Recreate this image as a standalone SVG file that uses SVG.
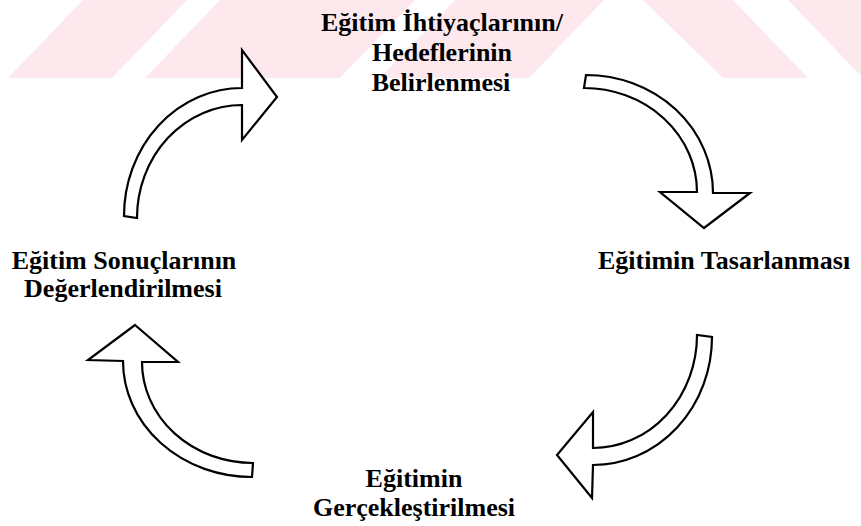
<svg xmlns="http://www.w3.org/2000/svg" width="861" height="526" viewBox="0 0 861 526">
<style>
.wm{fill:#fde9ed;stroke:none}
.arrow{fill:#ffffff;stroke:#000000;stroke-width:2.2;stroke-linejoin:miter}
.lbl{font-family:"Liberation Serif","Times New Roman",serif;font-weight:bold;font-size:26px;fill:#000000}
</style>
<g id="watermark">
<polygon class="wm" points="8,78 112,78 187,0 83,0"/>
<polygon class="wm" points="145,78 340,78 415,0 220,0"/>
<polygon class="wm" points="380,78 529,78 604,0 455,0"/>
<polygon class="wm" points="723,78 808,78 733,0 643,0"/>
<polygon class="wm" points="863,78 861,78 861,76 788,0 861,0"/>
</g>
<g id="connectors">
<path id="arrow-top-left" class="arrow" d="M124,216 A118,128 0 0 1 242,88 L242,50 L277,97 L242,140 L242,105 A105,113 0 0 0 137,218 Z"/>
<path id="arrow-top-right" class="arrow" d="M586,75 A127,118 0 0 1 713,193 L750,193 L704,228 L660,192 L697,192 A113,104 0 0 0 584,88 Z"/>
<path id="arrow-bottom-right" class="arrow" d="M712,337 A119,128 0 0 1 593,465 L592,498 L557,455 L593,412 L593,448 A104,113 0 0 0 697,335 Z"/>
<path id="arrow-bottom-left" class="arrow" d="M135,325 L178,362 L142,362 A111,101 0 0 0 253,463 L252,477 A129,116 0 0 1 123,361 L88,360 Z"/>
</g>
<g id="node-ihtiyac">
<text class="lbl" x="442" y="31" text-anchor="middle">Eğitim İhtiyaçlarının/</text>
<text class="lbl" x="442" y="61" text-anchor="middle">Hedeflerinin</text>
<text class="lbl" x="441" y="91" text-anchor="middle">Belirlenmesi</text>
</g>
<g id="node-tasarim">
<text class="lbl" x="598" y="269">Eğitimin Tasarlanması</text>
</g>
<g id="node-gerceklestirme">
<text class="lbl" x="414" y="487" text-anchor="middle">Eğitimin</text>
<text class="lbl" x="414" y="516" text-anchor="middle">Gerçekleştirilmesi</text>
</g>
<g id="node-degerlendirme">
<text class="lbl" x="124" y="269" text-anchor="middle">Eğitim Sonuçlarının</text>
<text class="lbl" x="123" y="297" text-anchor="middle">Değerlendirilmesi</text>
</g>
</svg>
